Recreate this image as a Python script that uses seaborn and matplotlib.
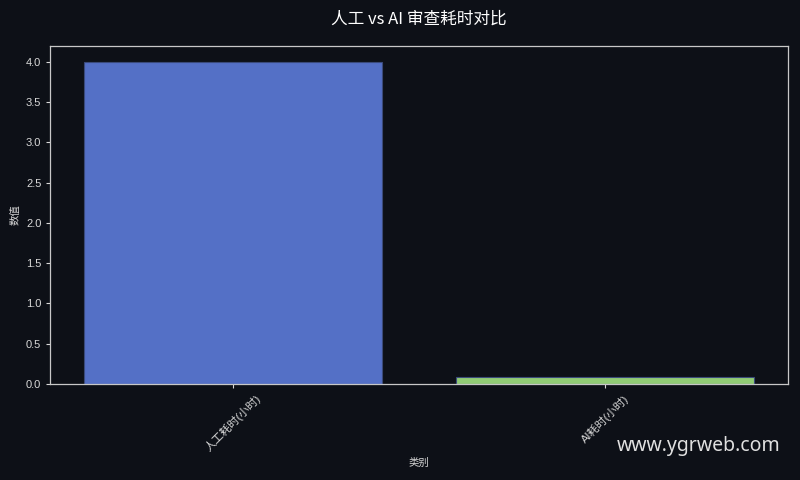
import matplotlib
matplotlib.use("Agg")
import matplotlib.pyplot as plt
import seaborn as sns
import pandas as pd

categories = ["人工耗时(小时)", "AI耗时(小时)"]
values = [4.0, 0.09]
colors = ["#5470c6", "#91cc75"]

title = "人工 vs AI 审查耗时对比"
xlabel = "类别"
ylabel = "数值"
watermark = "www.ygrweb.com"

bg = "#0d1017"
fg = "#d8d8d8"

sns.set_theme(style="dark")
plt.rcParams["font.family"] = ["Liberation Sans", "Noto Sans CJK SC", "DejaVu Sans"]

df = pd.DataFrame({"类别": categories, "数值": values})

fig, ax = plt.subplots(figsize=(8, 4.8), dpi=100)
fig.patch.set_facecolor(bg)
ax.set_facecolor(bg)

sns.barplot(data=df, x="类别", y="数值", hue="类别", palette=colors,
            saturation=1, legend=False, ax=ax, width=0.8,
            edgecolor="#3a4a7a", linewidth=0.8)
ax.set_xlim(-0.49, 1.49)

ax.set_title(title, color="white", fontsize=12, pad=16,
             family=["Noto Sans CJK SC", "DejaVu Sans"])
ax.set_xlabel(xlabel, color=fg, fontsize=7.5, labelpad=3)
ax.set_ylabel(ylabel, color=fg, fontsize=7.5)
ax.tick_params(axis="both", colors=fg, labelsize=8, length=3, width=0.8,
               bottom=True, left=True)
plt.setp(ax.get_xticklabels(), rotation=45)
ax.grid(False)
for s in ax.spines.values():
    s.set_visible(True)
    s.set_color("#c8c8c8")
    s.set_linewidth(0.9)

fig.text(0.976, 0.05, watermark, color="#e0e0e0", fontsize=14, ha="right",
         va="bottom", family=["Noto Sans", "DejaVu Sans"])

fig.subplots_adjust(left=0.063, right=0.985, top=0.905, bottom=0.2)
fig.savefig("out.png", dpi=100, facecolor=bg)
